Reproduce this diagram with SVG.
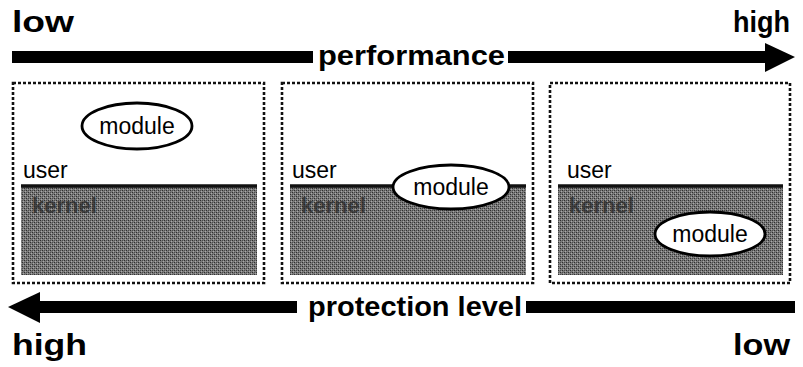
<svg xmlns="http://www.w3.org/2000/svg" width="803" height="367" viewBox="0 0 803 367">
  <defs>
    <pattern id="halftone" width="4" height="4" patternUnits="userSpaceOnUse">
      <rect width="4" height="4" fill="#7a7a7a"/>
      <rect x="0" y="0" width="1" height="1" fill="#2e2e2e"/>
      <rect x="2" y="2" width="1" height="1" fill="#2e2e2e"/>
      <rect x="1" y="3" width="1" height="1" fill="#a8a8a8"/>
      <rect x="3" y="1" width="1" height="1" fill="#a8a8a8"/>
      <rect x="2" y="0" width="1" height="1" fill="#4c4c4c"/>
      <rect x="0" y="2" width="1" height="1" fill="#4c4c4c"/>
    </pattern>
  </defs>
  <style>
    .frame { fill: #fff; stroke: #111; stroke-width: 2.6; stroke-dasharray: 3 2; }
    .kernel { fill: url(#halftone); }
    .edge { fill: none; stroke: #111; stroke-width: 3.5; }
    .mod { fill: #fff; stroke: #000; stroke-width: 2.8; }
    .bold { font-family: "Liberation Sans", Arial, sans-serif; font-weight: bold; fill: #000; }
    .reg { font-family: "Liberation Sans", Arial, sans-serif; fill: #000; }
    .ktxt { font-family: "Liberation Sans", Arial, sans-serif; font-weight: bold; fill: #262626; font-size: 22px; opacity: 0.7; }
    .bar { fill: #000; }
  </style>
  <rect width="803" height="367" fill="#fff"/>

  <!-- scale labels -->
  <g id="labels">
    <text class="bold" x="12" y="32" font-size="29" textLength="62" lengthAdjust="spacingAndGlyphs">low</text>
    <text class="bold" x="733" y="32" font-size="29" textLength="57" lengthAdjust="spacingAndGlyphs">high</text>
    <text class="bold" x="12" y="355" font-size="30" textLength="75" lengthAdjust="spacingAndGlyphs">high</text>
    <text class="bold" x="733" y="355" font-size="30" textLength="57" lengthAdjust="spacingAndGlyphs">low</text>
  </g>

  <!-- axis arrows -->
  <g id="connectors">
    <g id="performance-arrow">
      <rect class="bar" x="12" y="51" width="301" height="12"/>
      <rect class="bar" x="508" y="51" width="258" height="12"/>
      <polygon class="bar" points="765,43 795,57 765,72"/>
      <text class="bold" x="318" y="65" font-size="27" textLength="187" lengthAdjust="spacingAndGlyphs">performance</text>
    </g>
    <g id="protection-arrow">
      <polygon class="bar" points="8,307 40,292 40,323"/>
      <rect class="bar" x="39" y="301" width="258" height="12"/>
      <rect class="bar" x="526" y="301" width="269" height="12"/>
      <text class="bold" x="308" y="316" font-size="27" textLength="214" lengthAdjust="spacingAndGlyphs">protection level</text>
    </g>
  </g>

  <!-- left panel: module in user space -->
  <g id="panel-user">
    <rect class="frame" x="13" y="83" width="251" height="200"/>
    <rect class="kernel" x="21" y="185" width="236" height="90"/>
    <line class="edge" x1="21" y1="186" x2="257" y2="186"/>
    <text class="ktxt" x="32" y="213">kernel</text>
    <text class="reg" x="23" y="178" font-size="23">user</text>
    <g id="module-user">
      <ellipse class="mod" cx="137" cy="126" rx="55" ry="23"/>
      <text class="reg" x="137" y="134" font-size="23" text-anchor="middle">module</text>
    </g>
  </g>

  <!-- middle panel: module on the boundary -->
  <g id="panel-boundary">
    <rect class="frame" x="282" y="83" width="251" height="200"/>
    <rect class="kernel" x="290" y="185" width="236" height="90"/>
    <line class="edge" x1="290" y1="186" x2="526" y2="186"/>
    <text class="ktxt" x="301" y="213">kernel</text>
    <text class="reg" x="292" y="178" font-size="23">user</text>
    <g id="module-boundary">
      <ellipse class="mod" cx="451" cy="187" rx="58" ry="22"/>
      <text class="reg" x="451" y="195" font-size="23" text-anchor="middle">module</text>
    </g>
  </g>

  <!-- right panel: module in kernel space -->
  <g id="panel-kernel">
    <rect class="frame" x="550" y="83" width="240" height="200"/>
    <rect class="kernel" x="558" y="185" width="225" height="90"/>
    <line class="edge" x1="558" y1="186" x2="783" y2="186"/>
    <text class="ktxt" x="569" y="213">kernel</text>
    <text class="reg" x="567" y="178" font-size="23">user</text>
    <g id="module-kernel">
      <ellipse class="mod" cx="710" cy="234" rx="55" ry="22"/>
      <text class="reg" x="710" y="242" font-size="23" text-anchor="middle">module</text>
    </g>
  </g>
</svg>
